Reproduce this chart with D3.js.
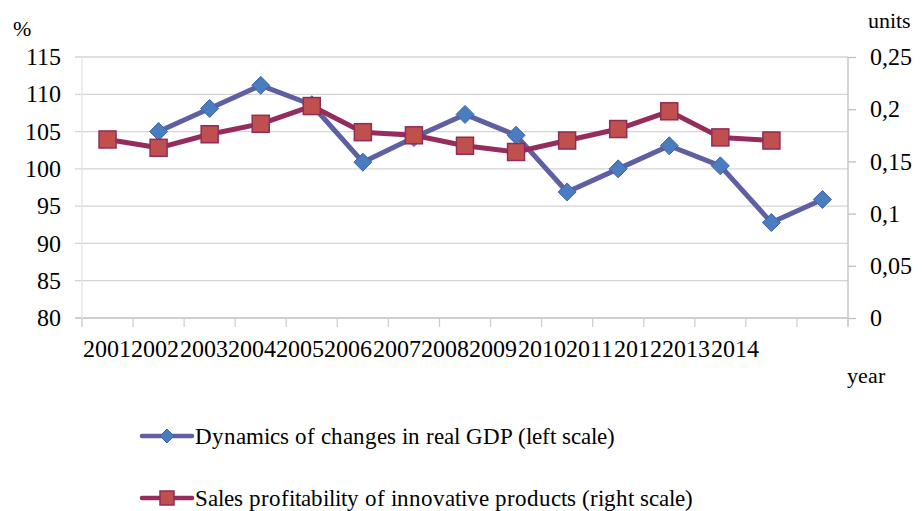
<!DOCTYPE html>
<html>
<head>
<meta charset="utf-8">
<script src="https://cdn.jsdelivr.net/npm/d3@7"></script>
<style>
  @font-face {
    font-family: "ChartSerif";
    src: local("Liberation Serif"), local("LiberationSerif"), local("LiberationSerif-Regular"),
         local("Tinos"), local("Tinos-Regular"), local("Times New Roman"), local("DejaVu Serif");
  }
  #chart text { font-family: "ChartSerif", "Times New Roman", Tinos, Times, serif; }
</style>
</head>
<body style="margin:0">
<svg id="chart" width="922" height="511" style="display:block;background:#fff"></svg>
<script>
// Categories along the x axis (the last slot carries no label)
const categories = ["2001","2002","2003","2004","2005","2006","2007","2008","2009","2010","2011","2012","2013","2014",""];
const yearLabels = categories.filter(d => d !== "");

// Dynamics of changes in real GDP, % (left scale)
const gdp = [null, 105.0, 108.1, 111.2, 108.6, 100.9, 104.2, 107.3, 104.5, 96.9, 100.0, 103.1, 100.4, 92.8, 95.9];
// Sales profitability of innovative products, units (right scale)
const profit = [0.171, 0.163, 0.176, 0.186, 0.203, 0.178, 0.175, 0.165, 0.159, 0.170, 0.181, 0.198, 0.173, 0.170, null];

const leftTicks = [80, 85, 90, 95, 100, 105, 110, 115];
const rightTicks = [0, 0.05, 0.1, 0.15, 0.2, 0.25];

const seriesNames = [
  "Dynamics of changes in real GDP (left scale)",
  "Sales profitability of innovative products (right scale)"
];

const plot = { left: 82, right: 848, top: 57, bottom: 318 };
const svg = d3.select("#chart");

const x = d3.scaleBand().domain(categories).range([plot.left, plot.right]);
const yL = d3.scaleLinear().domain([80, 115]).range([plot.bottom, plot.top]);
const yR = d3.scaleLinear().domain([0, 0.25]).range([plot.bottom, plot.top]);

const gdpColor = "#5f5fa3", gdpFill = "#4a7dbf", gdpStroke = "#3f64a6";
const profColor = "#962c5c", profFill = "#c0504d", profStroke = "#8f2d5a";

const txt = (sel, size) => sel.style("font-size", size + "px").attr("fill", "#000");

// Horizontal gridlines from the left scale, extending out as tick marks
svg.append("g")
  .selectAll("line")
  .data(leftTicks)
  .join("line")
  .attr("x1", plot.left - 7).attr("x2", plot.right)
  .attr("y1", d => yL(d)).attr("y2", d => yL(d))
  .attr("stroke", d => d === 80 ? "#bfbfbf" : "#d4d4d4")
  .attr("stroke-width", 1.3);

// Left axis line (faint)
svg.append("line")
  .attr("x1", plot.left).attr("x2", plot.left)
  .attr("y1", plot.top).attr("y2", plot.bottom + 8)
  .attr("stroke", "#e3e3e3").attr("stroke-width", 1.3);

// Left axis labels
const leftAxis = d3.axisLeft(yL).tickValues(leftTicks).tickSize(0).tickPadding(21);
const gL = svg.append("g").attr("transform", `translate(${plot.left},0)`).call(leftAxis);
gL.node().removeAttribute("font-family");
gL.node().removeAttribute("font-size");
gL.select(".domain").remove();
gL.selectAll("text").call(txt, 24);

// Right axis
const rightAxis = d3.axisRight(yR).tickValues(rightTicks).tickSize(8).tickPadding(14)
  .tickFormat(d => d3.format("")(d).replace(".", ","));
const gR = svg.append("g").attr("transform", `translate(${plot.right},0)`).call(rightAxis);
gR.node().removeAttribute("font-family");
gR.node().removeAttribute("font-size");
gR.select(".domain").attr("stroke", "#bfbfbf").attr("stroke-width", 1.3)
  .attr("d", `M0,${plot.top}V${plot.bottom + 8}`);
gR.selectAll(".tick line").attr("stroke", "#bfbfbf").attr("stroke-width", 1.3);
gR.selectAll("text").attr("text-anchor", "start").call(txt, 24);

// Bottom axis: tick marks on the category boundaries
const bounds = categories.map(c => x(c)).concat([plot.right]);
svg.append("g")
  .selectAll("line")
  .data(bounds)
  .join("line")
  .attr("x1", d => d).attr("x2", d => d)
  .attr("y1", plot.bottom).attr("y2", plot.bottom + 9)
  .attr("stroke", "#d0d0d0").attr("stroke-width", 1.3);

// Year labels, set as one continuous run under the axis
const xLab = d3.scaleBand().domain(yearLabels).range([83, 759]);
svg.append("g")
  .selectAll("text")
  .data(yearLabels)
  .join("text")
  .attr("x", d => xLab(d))
  .attr("y", 357)
  .call(txt, 24)
  .text(d => d);

// Unit captions
svg.append("text").attr("x", 13).attr("y", 36).call(txt, 22).text("%");
svg.append("text").attr("x", 868).attr("y", 28).call(txt, 22).text("units");
svg.append("text").attr("x", 847).attr("y", 383).call(txt, 22).text("year");

const cx = c => x(c) + x.bandwidth() / 2;

// GDP line
const gdpData = categories.map((c, i) => ({ c, v: gdp[i] })).filter(d => d.v != null);
svg.append("path")
  .datum(gdpData)
  .attr("fill", "none")
  .attr("stroke", gdpColor)
  .attr("stroke-width", 5)
  .attr("stroke-linejoin", "round")
  .attr("d", d3.line().x(d => cx(d.c)).y(d => yL(d.v)));

// Profitability line
const profData = categories.map((c, i) => ({ c, v: profit[i] })).filter(d => d.v != null);
svg.append("path")
  .datum(profData)
  .attr("fill", "none")
  .attr("stroke", profColor)
  .attr("stroke-width", 5)
  .attr("stroke-linejoin", "round")
  .attr("d", d3.line().x(d => cx(d.c)).y(d => yR(d.v)));

// Diamond markers
const diamond = s => `M0,${-s}L${s},0L0,${s}L${-s},0Z`;
svg.append("g")
  .selectAll("path")
  .data(gdpData)
  .join("path")
  .attr("transform", d => `translate(${cx(d.c)},${yL(d.v)})`)
  .attr("d", diamond(9))
  .attr("fill", gdpFill)
  .attr("stroke", gdpStroke)
  .attr("stroke-width", 1);

// Square markers
const sq = 17;
svg.append("g")
  .selectAll("rect")
  .data(profData)
  .join("rect")
  .attr("x", d => cx(d.c) - sq / 2)
  .attr("y", d => yR(d.v) - sq / 2)
  .attr("width", sq).attr("height", sq)
  .attr("fill", profFill)
  .attr("stroke", profStroke)
  .attr("stroke-width", 1.5);

// Legend
const legend = svg.append("g");
const legendRows = [
  { name: seriesNames[0], y: 436, color: gdpColor, type: "diamond" },
  { name: seriesNames[1], y: 498, color: profColor, type: "square" }
];
legendRows.forEach(r => {
  legend.append("line")
    .attr("x1", 142).attr("x2", 192)
    .attr("y1", r.y).attr("y2", r.y)
    .attr("stroke", r.color).attr("stroke-width", 4.5).attr("stroke-linecap", "round");
  if (r.type === "diamond") {
    legend.append("path")
      .attr("transform", `translate(167,${r.y})`)
      .attr("d", diamond(7))
      .attr("fill", gdpFill).attr("stroke", gdpStroke);
  } else {
    legend.append("rect")
      .attr("x", 167 - 7).attr("y", r.y - 7)
      .attr("width", 14).attr("height", 14)
      .attr("fill", profFill).attr("stroke", profStroke).attr("stroke-width", 1.5);
  }
  legend.append("text")
    .attr("x", 195).attr("y", r.y + 8)
    .call(txt, 23)
    .text(r.name);
});
</script>
</body>
</html>
